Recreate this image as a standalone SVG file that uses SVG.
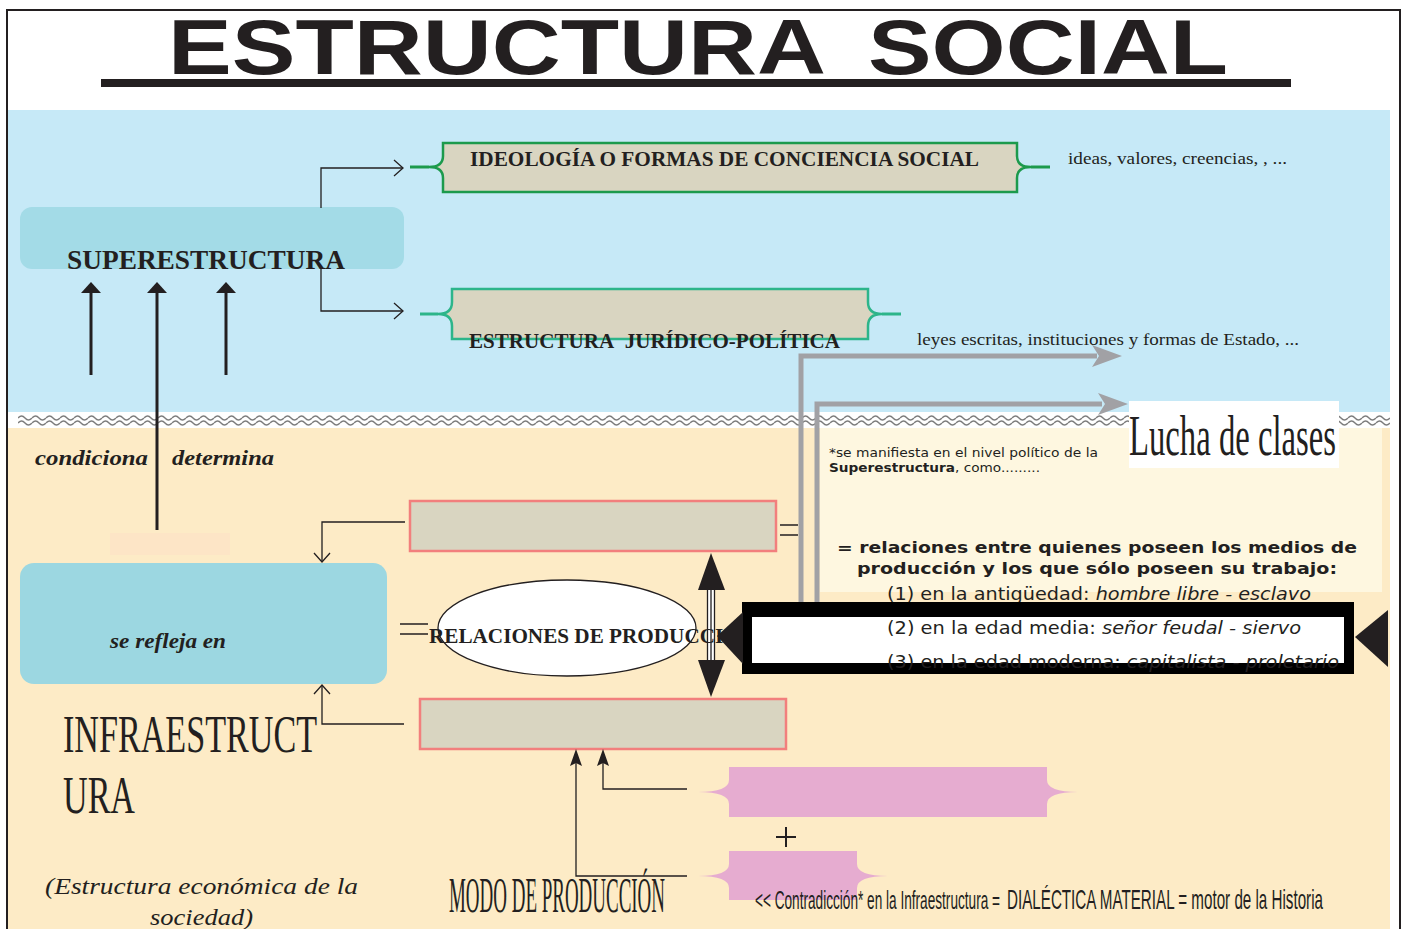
<svg xmlns="http://www.w3.org/2000/svg" width="1404" height="929" viewBox="0 0 1404 929">
<defs>
<style>
.serif{font-family:"Liberation Serif","Times New Roman",serif;fill:#231f20}
.sans{font-family:"DejaVu Sans",Verdana,sans-serif;fill:#231f20}
.lsans{font-family:"Liberation Sans",Arial,sans-serif;fill:#231f20}
.b{font-weight:bold}
.i{font-style:italic}
.ln{fill:none;stroke:#231f20;stroke-width:1.3}
.thick{fill:none;stroke:#231f20;stroke-width:3}
.gray{fill:none;stroke:#a1a1a5;stroke-width:5}
.grayhead{fill:#a1a1a5}
.head{fill:#231f20}
.pinkbox{fill:#d9d5c1;stroke:#f27f7d;stroke-width:2.5}
.pink{fill:#e6acd0}
</style>
<pattern id="wave" patternUnits="userSpaceOnUse" x="18" y="412" width="14" height="16">
<path d="M0,6 Q3.5,2 7,6 T14,6 M0,11 Q3.5,7 7,11 T14,11" fill="none" stroke="#7d7d7d" stroke-width="1.4"/>
</pattern>
</defs>

<!-- background -->
<rect x="0" y="0" width="1404" height="929" fill="#ffffff"/>
<path d="M7,929 V10 H1400 V929" fill="none" stroke="#231f20" stroke-width="2"/>
<rect x="8" y="110" width="1382" height="302" fill="#c6e9f7"/>
<rect x="8" y="428" width="1382" height="501" fill="#fdebc6"/>
<rect x="8" y="412" width="1382" height="16" fill="#ffffff"/>
<rect x="18" y="412" width="1372" height="16" fill="url(#wave)"/>
<rect x="820" y="428" width="562" height="164" fill="#fef7e0"/>
<rect x="110" y="533" width="120" height="22" fill="#fde5c6"/>

<!-- title -->
<g id="title">
<text class="lsans b" x="168" y="74" font-size="78" textLength="658" lengthAdjust="spacingAndGlyphs">ESTRUCTURA</text>
<text class="lsans b" x="868" y="74" font-size="78" textLength="360" lengthAdjust="spacingAndGlyphs">SOCIAL</text>
<rect x="101" y="79" width="1190" height="8" fill="#231f20"/>
</g>

<!-- nodes -->
<g id="superestructura">
<rect x="20" y="207" width="384" height="62" rx="12" fill="#a3dbe7"/>
<text class="serif b" x="67" y="269" font-size="27" textLength="278" lengthAdjust="spacingAndGlyphs">SUPERESTRUCTURA</text>
</g>

<g id="ideologia">
<path d="M410,167 H429 M1031,167 H1050" fill="none" stroke="#1c9a4c" stroke-width="3"/>
<path d="M443,143 H1017 V156 Q1017,167 1031,167 Q1017,167 1017,178 V192 H443 V178 Q443,167 429,167 Q443,167 443,156 Z" fill="#d9d5c1" stroke="#1c9a4c" stroke-width="2.5"/>
<text class="serif b" x="470" y="166" font-size="20" textLength="509" lengthAdjust="spacingAndGlyphs">IDEOLOGÍA O FORMAS DE CONCIENCIA SOCIAL</text>
<text class="serif" x="1068" y="164" font-size="16" textLength="219" lengthAdjust="spacingAndGlyphs">ideas, valores, creencias, , ...</text>
</g>

<g id="juridico">
<path d="M420,314 H438 M882,314 H901" fill="none" stroke="#2db58a" stroke-width="3"/>
<path d="M452,289 H868 V302 Q868,314 882,314 Q868,314 868,326 V339 H452 V326 Q452,314 438,314 Q452,314 452,302 Z" fill="#d9d5c1" stroke="#2db58a" stroke-width="2.5"/>
<text class="serif b" x="469" y="348" font-size="20" textLength="371" lengthAdjust="spacingAndGlyphs">ESTRUCTURA&#160; JURÍDICO-POLÍTICA</text>
<text class="serif" x="917" y="345" font-size="17" textLength="382" lengthAdjust="spacingAndGlyphs">leyes escritas, instituciones y formas de Estado, ...</text>
</g>

<g id="labels-arrows">
<text class="serif b i" x="35" y="465" font-size="22" textLength="113" lengthAdjust="spacingAndGlyphs">condiciona</text>
<text class="serif b i" x="172" y="465" font-size="22" textLength="102" lengthAdjust="spacingAndGlyphs">determina</text>
</g>

<g id="infraestructura">
<rect x="20" y="563" width="367" height="121" rx="14" fill="#9cd7e1"/>
<text class="serif b i" x="110" y="648" font-size="21" textLength="116" lengthAdjust="spacingAndGlyphs">se refleja en</text>
<text class="serif" x="63" y="752" font-size="53" textLength="254" lengthAdjust="spacingAndGlyphs">INFRAESTRUCT</text>
<text class="serif" x="63" y="813" font-size="53" textLength="72" lengthAdjust="spacingAndGlyphs">URA</text>
<text class="serif i" x="45" y="894" font-size="23" textLength="313" lengthAdjust="spacingAndGlyphs">(Estructura económica de la</text>
<text class="serif i" x="150" y="925" font-size="23" textLength="103" lengthAdjust="spacingAndGlyphs">sociedad)</text>
</g>

<g id="fuerzas-box">
<rect class="pinkbox" x="410" y="501" width="366" height="50"/>
<path d="M780,525 H798 M780,535 H798" class="ln" stroke-width="1.6"/>
</g>

<g id="medios-box">
<rect class="pinkbox" x="420" y="699" width="366" height="50"/>
</g>

<g id="pink-1">
<path class="pink" d="M729,767 H1047 V780 Q1047,792 1078,792 Q1047,792 1047,804 V817 H729 V804 Q729,792 698,792 Q729,792 729,780 Z"/>
</g>
<g id="pink-2">
<path class="pink" d="M729,851 H857 V864 Q857,876 888,876 Q857,876 857,888 V900 H729 V888 Q729,876 698,876 Q729,876 729,864 Z"/>
</g>
<g id="plus">
<path d="M776,837 H796 M786,827 V847" fill="none" stroke="#231f20" stroke-width="2"/>
</g>

<g id="modo">
<text class="serif" x="449" y="912" font-size="51" textLength="216" lengthAdjust="spacingAndGlyphs">MODO DE PRODUCCIÓN</text>
</g>

<g id="lucha">
<rect x="1129" y="401" width="210" height="67" fill="#ffffff"/>
<text class="serif" x="1129" y="455" font-size="56" textLength="207" lengthAdjust="spacingAndGlyphs">Lucha de clases</text>
<text class="sans" x="829" y="457" font-size="12.5" textLength="269" lengthAdjust="spacingAndGlyphs">*se manifiesta en el nivel político de la</text>
<text class="sans" x="829" y="472" font-size="12.5" textLength="211" lengthAdjust="spacingAndGlyphs"><tspan font-weight="bold">Superestructura</tspan>,  como.........</text>
<text class="sans b" x="837" y="553" font-size="16" textLength="520" lengthAdjust="spacingAndGlyphs">= relaciones entre quienes poseen los medios de</text>
<text class="sans b" x="857" y="574" font-size="16" textLength="480" lengthAdjust="spacingAndGlyphs">producción y los que sólo poseen su trabajo:</text>
<text class="sans" x="887" y="600" font-size="17" textLength="424" lengthAdjust="spacingAndGlyphs">(1) en la antigüedad: <tspan font-style="italic">hombre libre - esclavo</tspan></text>
</g>

<!-- connectors -->
<g id="connectors">
<path class="ln" d="M321,208 V168 H403"/>
<polyline class="ln" points="394,160 403,168 394,176"/>
<path class="ln" d="M321,269 V311 H403"/>
<polyline class="ln" points="394,303 403,311 394,319"/>
<path class="ln" d="M405,522 H322 V562"/>
<polyline class="ln" points="314,553 322,562 330,553"/>
<path class="ln" d="M404,724 H322 V685"/>
<polyline class="ln" points="314,694 322,685 330,694"/>

<line class="thick" x1="91" y1="375" x2="91" y2="290"/>
<polygon class="head" points="81,293 91,282 101,293"/>
<line class="thick" x1="157" y1="530" x2="157" y2="290" stroke-width="2.5"/>
<polygon class="head" points="147,293 157,282 167,293"/>
<line class="thick" x1="226" y1="375" x2="226" y2="290"/>
<polygon class="head" points="216,293 226,282 236,293"/>

<path class="ln" d="M687,876 H576 V762"/>
<polygon class="head" points="570,766 576,749 582,766 576,763"/>
<path class="ln" d="M687,789 H603 V762"/>
<polygon class="head" points="597,766 603,749 609,766 603,763"/>

<path class="gray" d="M801,617 V356 H1097"/>
<polygon class="grayhead" points="1092,345 1122,356 1092,367 1099,356"/>
<path class="gray" d="M817,617 V404 H1102"/>
<polygon class="grayhead" points="1098,393 1128,404 1098,415 1105,404"/>
</g>

<g id="relaciones">
<ellipse cx="567" cy="628" rx="129" ry="48" fill="#ffffff" stroke="#231f20" stroke-width="1.3"/>
<path d="M400,624 H428 M400,634 H428" class="ln" stroke-width="1.6"/>
<rect x="707" y="588" width="8" height="74" fill="#ffffff"/>
<path d="M707.5,588 V662 M711,588 V662 M714.5,588 V662" class="ln" stroke-width="1.2"/>
<polygon class="head" points="711,553 698,590 725,590"/>
<polygon class="head" points="711,697 698,660 725,660"/>
<text class="serif b" x="429" y="643" font-size="21" textLength="326" lengthAdjust="spacingAndGlyphs">RELACIONES DE PRODUCCIÓN</text>
</g>

<g id="etapas">
<rect x="742" y="602" width="612" height="72" fill="#000000"/>
<rect x="752" y="617" width="592" height="46" fill="#ffffff"/>
<polygon fill="#231f20" points="717,636 743,612 743,664"/>
<polygon fill="#231f20" points="1355,637 1388,610 1388,667"/>
<text class="sans" x="887" y="634" font-size="17" textLength="414" lengthAdjust="spacingAndGlyphs">(2) en la edad media: <tspan font-style="italic">señor feudal - siervo</tspan></text>
<text class="sans" x="887" y="668" font-size="17" textLength="452" lengthAdjust="spacingAndGlyphs">(3) en la edad moderna: <tspan font-style="italic">capitalista - proletario</tspan></text>
</g>

<g id="contradiccion">
<text class="lsans" x="755" y="909" font-size="25" textLength="245" lengthAdjust="spacingAndGlyphs">&lt;&lt; Contradicción* en la Infraestructura =</text>
<text class="lsans" x="1007" y="909" font-size="28" textLength="316" lengthAdjust="spacingAndGlyphs">DIALÉCTICA MATERIAL = motor de la Historia</text>
</g>
</svg>
